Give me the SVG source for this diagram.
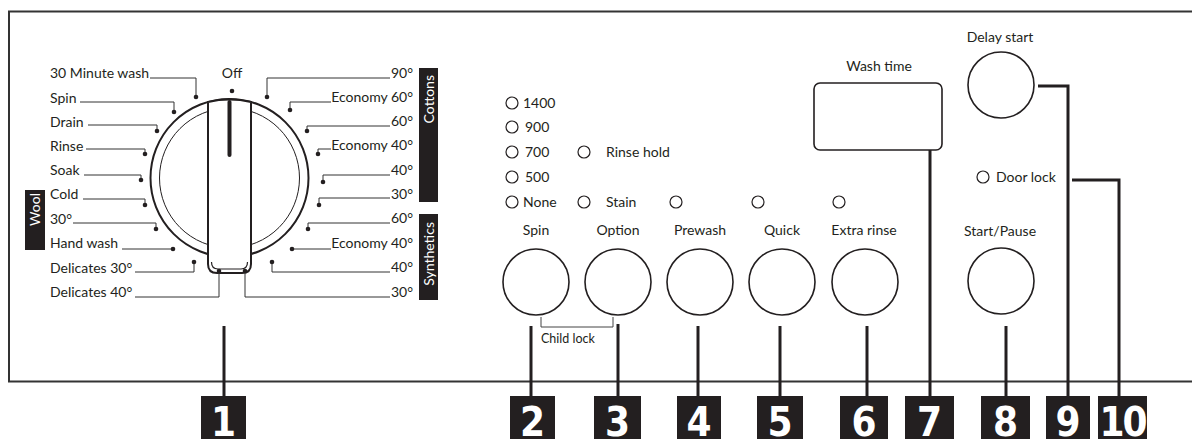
<svg xmlns="http://www.w3.org/2000/svg" width="1192" height="439" viewBox="0 0 1192 439">
<defs>
<style>
.t{font-family:Lato,"Open Sans","DejaVu Sans",sans-serif;font-size:14px;fill:#231f20}
.e{text-anchor:end}
.m{text-anchor:middle}
.w{font-family:Lato,"Open Sans","DejaVu Sans",sans-serif;font-size:14px;fill:#fff;text-anchor:end}
.ld{fill:none;stroke:#333;stroke-width:1}
.dot{fill:#231f20}
.led{fill:#fff;stroke:#231f20;stroke-width:1.2}
.btn{fill:#fff;stroke:#231f20;stroke-width:1.6}
.bar{fill:#231f20}
.cn{fill:none;stroke:#231f20;stroke-width:3}
.nb{fill:#231f20}
.nt{font-family:"DejaVu Sans Condensed","DejaVu Sans",sans-serif;font-weight:bold;font-stretch:condensed;font-size:40px;fill:#fff;text-anchor:middle}
</style>
</defs>
<rect width="1192" height="439" fill="#fff"/>
<path id="frame" d="M1192,11.5 H9 V381.5 H1192" fill="none" stroke="#333" stroke-width="2"/>

<g id="dial">
<circle cx="229.5" cy="178" r="79" fill="#fff" stroke="#231f20" stroke-width="2"/>
<circle cx="229.5" cy="178" r="70" fill="none" stroke="#231f20" stroke-width="1"/>
<path d="M208,102 Q229.5,97 251,102 L251,264 Q251,273 242,273 L217,273 Q208,273 208,264 Z" fill="#fff" stroke="#231f20" stroke-width="2"/>
<path d="M211.5,262 Q211.5,269 218,269 L241,269 Q247.5,269 247.5,262" fill="none" stroke="#231f20" stroke-width="1.2"/>
<line x1="229.5" y1="102" x2="229.5" y2="155" stroke="#231f20" stroke-width="4" stroke-linecap="round"/>
<circle class="dot" cx="232" cy="91" r="2.3"/>
<text class="t m" x="232" y="78">Off</text>
</g>

<g id="dial-left">
<text class="t" x="50" y="78">30 Minute wash</text>
<text class="t" x="50" y="103">Spin</text>
<text class="t" x="50" y="127">Drain</text>
<text class="t" x="50" y="151">Rinse</text>
<text class="t" x="50" y="175">Soak</text>
<text class="t" x="50" y="199">Cold</text>
<text class="t" x="50" y="224">30°</text>
<text class="t" x="50" y="248">Hand wash</text>
<text class="t" x="50" y="273">Delicates 30°</text>
<text class="t" x="50" y="297">Delicates 40°</text>
<path class="ld" d="M150,78 H196 V97 M80,102 H174 V112 M88,125 H157 V131 M86,149 H145 V154 M84,175 H141 V180 M83,199 H145 V205 M73,223 H156 V229 M122,249 H173 M135,272 H194 V262 M135,297 H219 V271"/>
<circle class="dot" cx="196" cy="97" r="2.3"/>
<circle class="dot" cx="174" cy="112" r="2.3"/>
<circle class="dot" cx="157" cy="131" r="2.3"/>
<circle class="dot" cx="145" cy="154" r="2.3"/>
<circle class="dot" cx="141" cy="180" r="2.3"/>
<circle class="dot" cx="145" cy="205" r="2.3"/>
<circle class="dot" cx="156" cy="229" r="2.3"/>
<circle class="dot" cx="173" cy="249" r="2.3"/>
<circle class="dot" cx="194" cy="262" r="2.3"/>
<circle class="dot" cx="219" cy="271" r="2.3"/>
<rect class="bar" x="25" y="190" width="20" height="60"/>
<text class="w" transform="translate(40,193) rotate(-90)">Wool</text>
</g>

<g id="dial-right">
<text class="t e" x="413" y="78">90°</text>
<text class="t e" x="413" y="102">Economy 60°</text>
<text class="t e" x="413" y="126">60°</text>
<text class="t e" x="413" y="150">Economy 40°</text>
<text class="t e" x="413" y="175">40°</text>
<text class="t e" x="413" y="199">30°</text>
<text class="t e" x="413" y="223">60°</text>
<text class="t e" x="413" y="248">Economy 40°</text>
<text class="t e" x="413" y="272">40°</text>
<text class="t e" x="413" y="297">30°</text>
<path class="ld" d="M390,78 H267 V97 M331,102 H290 V110 M390,126 H307 V131 M331,149 H318 V154 M390,175 H323 V182 M390,198 H319 V205 M390,223 H308 V229 M331,249 H292 M390,272 H272 V262 M390,297 H245 V271"/>
<circle class="dot" cx="267" cy="97" r="2.3"/>
<circle class="dot" cx="290" cy="110" r="2.3"/>
<circle class="dot" cx="307" cy="131" r="2.3"/>
<circle class="dot" cx="318" cy="154" r="2.3"/>
<circle class="dot" cx="323" cy="182" r="2.3"/>
<circle class="dot" cx="319" cy="205" r="2.3"/>
<circle class="dot" cx="308" cy="229" r="2.3"/>
<circle class="dot" cx="292" cy="249" r="2.3"/>
<circle class="dot" cx="272" cy="262" r="2.3"/>
<circle class="dot" cx="245" cy="271" r="2.3"/>
<rect class="bar" x="419" y="68" width="19" height="134"/>
<text class="w" transform="translate(433.5,75) rotate(-90)">Cottons</text>
<rect class="bar" x="419" y="214" width="19" height="86"/>
<text class="w" transform="translate(433.5,222) rotate(-90)">Synthetics</text>
</g>

<g id="spin-leds">
<circle class="led" cx="512" cy="103" r="6"/><text class="t" x="523" y="108">1400</text>
<circle class="led" cx="512" cy="127" r="6"/><text class="t" x="525" y="132">900</text>
<circle class="led" cx="512" cy="152" r="6"/><text class="t" x="525" y="157">700</text>
<circle class="led" cx="512" cy="177" r="6"/><text class="t" x="525" y="182">500</text>
<circle class="led" cx="512" cy="202" r="6"/><text class="t" x="523" y="207">None</text>
</g>
<g id="option-leds">
<circle class="led" cx="584" cy="152" r="6"/><text class="t" x="606" y="157">Rinse hold</text>
<circle class="led" cx="584" cy="202" r="6"/><text class="t" x="606" y="207">Stain</text>
</g>
<g id="other-leds">
<circle class="led" cx="676" cy="202" r="6"/>
<circle class="led" cx="758" cy="202" r="6"/>
<circle class="led" cx="839" cy="202" r="6"/>
</g>

<g id="btn-spin"><text class="t m" x="536" y="235">Spin</text><circle class="btn" cx="536" cy="282" r="33"/></g>
<g id="btn-option"><text class="t m" x="618" y="235">Option</text><circle class="btn" cx="618" cy="282" r="33"/></g>
<g id="btn-prewash"><text class="t m" x="700" y="235">Prewash</text><circle class="btn" cx="700" cy="282" r="33"/></g>
<g id="btn-quick"><text class="t m" x="782" y="235">Quick</text><circle class="btn" cx="782" cy="282" r="33"/></g>
<g id="btn-extra"><text class="t m" x="864" y="235">Extra rinse</text><circle class="btn" cx="865" cy="282" r="33"/></g>
<g id="child-lock">
<path d="M541,317 V327 H613 V317" fill="none" stroke="#444" stroke-width="1"/>
<text class="t" x="541" y="343" style="font-size:12.5px">Child lock</text>
</g>

<g id="wash-time">
<text class="t m" x="879" y="71">Wash time</text>
<rect x="814" y="83" width="128" height="67" rx="6" fill="#fff" stroke="#231f20" stroke-width="1.6"/>
</g>
<g id="delay-start">
<text class="t m" x="1000" y="42">Delay start</text>
<circle class="btn" cx="1001" cy="85" r="33"/>
</g>
<g id="door-lock">
<circle class="led" cx="983" cy="177" r="6"/><text class="t" x="996" y="182">Door lock</text>
</g>
<g id="start-pause">
<text class="t m" x="1000" y="236">Start/Pause</text>
<circle class="btn" cx="1001" cy="281" r="33"/>
</g>

<g id="connectors">
<path class="cn" d="M224,326 V396"/>
<path class="cn" d="M531,326 V396"/>
<path class="cn" d="M618,324 V396"/>
<path class="cn" d="M698,326 V396"/>
<path class="cn" d="M780,326 V396"/>
<path class="cn" d="M867,326 V396"/>
<path class="cn" d="M930,150 V396"/>
<path class="cn" d="M1006,326 V396"/>
<path class="cn" d="M1038,86 H1068 V396"/>
<path class="cn" d="M1072,180 H1119 V396"/>
</g>

<g id="num-1"><rect class="nb" x="201" y="396" width="45" height="43"/><text class="nt" x="223.5" y="436">1</text></g>
<g id="num-2"><rect class="nb" x="510" y="396" width="45" height="43"/><text class="nt" x="532.5" y="436">2</text></g>
<g id="num-3"><rect class="nb" x="594" y="396" width="47" height="43"/><text class="nt" x="617.5" y="436">3</text></g>
<g id="num-4"><rect class="nb" x="677" y="396" width="44" height="43"/><text class="nt" x="699" y="436">4</text></g>
<g id="num-5"><rect class="nb" x="757" y="396" width="46" height="43"/><text class="nt" x="780" y="436">5</text></g>
<g id="num-6"><rect class="nb" x="840" y="396" width="48" height="43"/><text class="nt" x="864" y="436">6</text></g>
<g id="num-7"><rect class="nb" x="905" y="396" width="49" height="43"/><text class="nt" x="929.5" y="436">7</text></g>
<g id="num-8"><rect class="nb" x="981" y="396" width="49" height="43"/><text class="nt" x="1005.5" y="436">8</text></g>
<g id="num-9"><rect class="nb" x="1046" y="396" width="44" height="43"/><text class="nt" x="1068" y="436">9</text></g>
<g id="num-10"><rect class="nb" x="1098" y="396" width="49" height="43"/><text class="nt" x="1122.5" y="436" letter-spacing="-2">10</text></g>
</svg>
